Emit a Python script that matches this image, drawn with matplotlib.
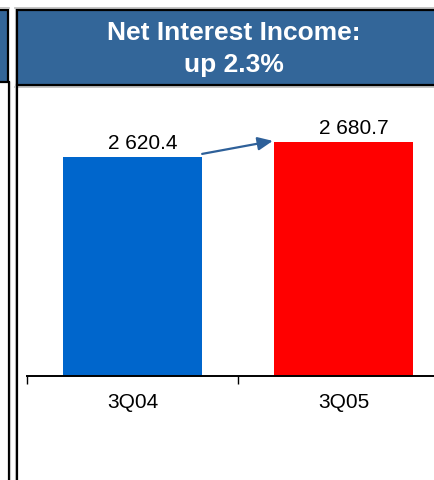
import matplotlib
matplotlib.use("Agg")
import matplotlib.pyplot as plt
from matplotlib.patches import Rectangle
from matplotlib.lines import Line2D

plt.rcParams['font.family'] = ['Liberation Sans', 'DejaVu Sans']

# Data
quarters = ["3Q04", "3Q05"]
nii_values = [2620.4, 2680.7]
value_labels = ["2 620.4", "2 680.7"]
bar_colors = ["#0066CC", "#FF0000"]
title_lines = ["Net Interest Income:", "up 2.3%"]

W, H = 434, 480
fig = plt.figure(figsize=(W / 100, H / 100), dpi=100)
fig.patch.set_facecolor("white")

HEADER_BLUE = "#336699"


def fx(x):
    return x / W


def fy(y):
    return 1 - y / H


def frame_rect(x0, y0, x1, y1, face, lw=1.6, z=1):
    r = Rectangle((fx(x0), fy(y1)), fx(x1) - fx(x0), fy(y0) - fy(y1),
                  transform=fig.transFigure, facecolor=face,
                  edgecolor="black", linewidth=lw, zorder=z)
    fig.add_artist(r)


def vline(x, y0, y1, color="black", lw=1.6, z=2):
    fig.add_artist(Line2D([fx(x), fx(x)], [fy(y0), fy(y1)],
                          transform=fig.transFigure, color=color,
                          linewidth=lw, zorder=z))


def hline(y, x0, x1, color="black", lw=1.6, z=2):
    fig.add_artist(Line2D([fx(x0), fx(x1)], [fy(y), fy(y)],
                          transform=fig.transFigure, color=color,
                          linewidth=lw, zorder=z))


# Neighbouring panel on the left
hline(8, -5, 9, color="#BBBBBB", lw=1.2)
frame_rect(-20, 10, 8.5, 82, HEADER_BLUE)
vline(8.5, 82, 490)
vline(10.2, 82, 490, color="#C8C8C8", lw=0.8)

# Main panel frame and header
hline(8, 15, 440, color="#BBBBBB", lw=1.2)
hline(86.5, 15, 440, color="#BBBBBB", lw=1.2)
vline(15.3, 8, 490, color="#C8C8C8", lw=0.8)
frame_rect(17, 10, 470, 85, HEADER_BLUE, z=3)
vline(17, 85, 490)

fig.text(fx(234), fy(40), title_lines[0], color="white", fontsize=19,
         fontweight="bold", ha="center", va="baseline")
fig.text(fx(234), fy(72), title_lines[1], color="white", fontsize=19,
         fontweight="bold", ha="center", va="baseline")

# Chart axes
ax_left, ax_right = 27, 449
ax_top, ax_bottom = 100, 376
ax = fig.add_axes([fx(ax_left), fy(ax_bottom), fx(ax_right) - fx(ax_left),
                   fy(ax_top) - fy(ax_bottom)])
ax.set_facecolor("none")

x = list(range(len(quarters)))
bar_w = 0.66
y_min, y_max = 1740, 2849
bars = ax.bar(x, nii_values, width=bar_w, color=bar_colors, zorder=2)
ax.set_xlim(-0.5, len(quarters) - 0.5)
ax.set_ylim(y_min, y_max)

for xi, v, lab in zip(x, nii_values, value_labels):
    ax.annotate(lab, xy=(xi, v), xytext=(7.5, 5.5), textcoords="offset points",
                ha="center", va="baseline", fontsize=15, color="black")

# Growth arrow from the first bar to the second
ax.annotate("", xy=(x[1] - bar_w / 2 - 0.005, nii_values[1] + 4),
            xytext=(x[0] + bar_w / 2, nii_values[0] + 12),
            arrowprops=dict(arrowstyle="-|>,head_length=0.9,head_width=0.4",
                            color="#2E6099", lw=1.6,
                            shrinkA=0, shrinkB=0), zorder=3)

for s in ["top", "left", "right"]:
    ax.spines[s].set_visible(False)
ax.spines["bottom"].set_linewidth(1.4)
ax.spines["bottom"].set_zorder(4)
ax.set_yticks([])

ax.set_xticks([i - 0.5 for i in range(len(quarters) + 1)])
ax.set_xticklabels([])
ax.tick_params(axis="x", which="major", direction="out", length=6,
               width=1.0, color="black")
ax.set_xticks(x, minor=True)
ax.set_xticklabels(quarters, minor=True, fontsize=15)
ax.tick_params(axis="x", which="minor", length=0, pad=12)

fig.savefig("out.png", dpi=100, facecolor="white")
